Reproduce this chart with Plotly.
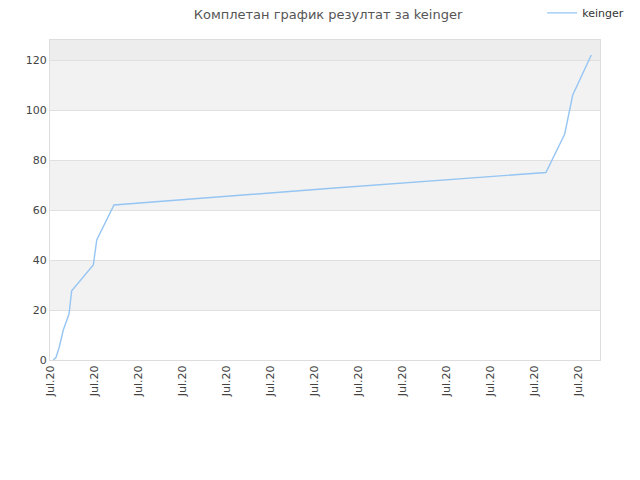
import plotly.graph_objects as go

# points (x as time in July 2020, y = result)
dates = [
    "2020-07-01 03:30", "2020-07-01 06:30", "2020-07-01 10:00", "2020-07-01 14:30",
    "2020-07-01 20:45", "2020-07-01 23:40", "2020-07-02 23:15", "2020-07-03 03:00",
    "2020-07-03 21:50", "2020-07-13 12:00", "2020-07-23 13:00", "2020-07-24 09:30",
    "2020-07-24 18:15", "2020-07-25 14:30",
]
scores = [0, 1, 5, 12, 18.4, 27.7, 38, 48, 62, 68.5, 75, 90.4, 106, 122]

band_edges = [(20, 40), (60, 80), (100, 120)]
tick_dates = ["2020-07-%02d" % d for d in range(1, 26, 2)]
tick_text = ["Jul.20"] * len(tick_dates)

fig = go.Figure()

fig.add_trace(go.Scatter(
    x=dates, y=scores, mode="lines", name="keinger",
    line=dict(color="#95c5f3", width=1.4),
))

# alternating grey bands behind the plot
for lo, hi in band_edges:
    fig.add_shape(type="rect", xref="paper", yref="y", x0=0, x1=1, y0=lo, y1=hi,
                  fillcolor="#f2f2f2", line_width=0, layer="below")
fig.add_shape(type="rect", xref="paper", yref="y", x0=0, x1=1, y0=120, y1=128,
              fillcolor="#ededed", line_width=0, layer="below")

fig.update_layout(
    width=640, height=480,
    margin=dict(l=42, r=48, t=32, b=128, autoexpand=False),
    paper_bgcolor="white", plot_bgcolor="white",
    font=dict(family="DejaVu Sans", size=11, color="#444"),
    title=dict(text="Комплетан график резултат за keinger", x=0.5, xanchor="center",
               y=0.986, yanchor="middle", font=dict(size=13, color="#555")),
    showlegend=True,
    legend=dict(x=1.053, y=1.13, xanchor="right", yanchor="top", bgcolor="rgba(0,0,0,0)",
                font=dict(size=11, color="#333"), itemwidth=30),
    xaxis=dict(
        type="date", range=["2020-07-01", "2020-07-26"], automargin=False,
        tickvals=tick_dates, ticktext=tick_text, tickangle=-90,
        showgrid=False, zeroline=False, showline=True, linecolor="#dddddd", mirror=True,
        ticks="", tickfont=dict(size=11, color="#444"),
    ),
    yaxis=dict(
        range=[0, 128], tickvals=[0, 20, 40, 60, 80, 100, 120], automargin=False,
        showgrid=True, gridcolor="#e0e0e0", zeroline=False,
        showline=True, linecolor="#dddddd", mirror=True, ticks="",
        tickfont=dict(size=11, color="#444"),
    ),
)

fig.write_html("out.html")
